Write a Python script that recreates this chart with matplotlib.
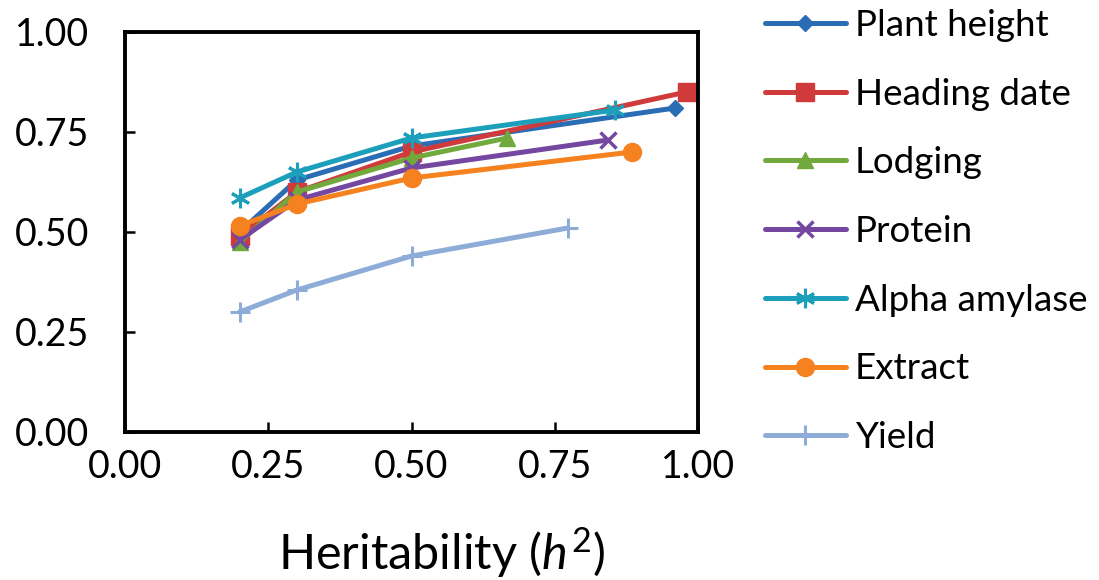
import matplotlib.pyplot as plt

plt.rcParams['font.family'] = 'Lato'
plt.rcParams['mathtext.fontset'] = 'custom'
plt.rcParams['mathtext.rm'] = 'Lato'
plt.rcParams['mathtext.it'] = 'Lato:italic'

traits = ['Plant height', 'Heading date', 'Lodging', 'Protein',
          'Alpha amylase', 'Extract', 'Yield']

# heritability (x) and accuracy (y) per trait
plant_height_x = [0.20, 0.30, 0.50, 0.96]
plant_height_y = [0.50, 0.63, 0.715, 0.81]
heading_date_x = [0.20, 0.30, 0.50, 0.98]
heading_date_y = [0.49, 0.60, 0.70, 0.85]
lodging_x = [0.20, 0.30, 0.50, 0.667]
lodging_y = [0.475, 0.60, 0.685, 0.735]
protein_x = [0.20, 0.30, 0.50, 0.843]
protein_y = [0.48, 0.58, 0.66, 0.73]
alpha_amylase_x = [0.20, 0.30, 0.50, 0.855]
alpha_amylase_y = [0.585, 0.65, 0.735, 0.805]
extract_x = [0.20, 0.30, 0.50, 0.885]
extract_y = [0.515, 0.57, 0.635, 0.70]
yield_x = [0.20, 0.30, 0.50, 0.773]
yield_y = [0.30, 0.355, 0.44, 0.51]

xs = [plant_height_x, heading_date_x, lodging_x, protein_x,
      alpha_amylase_x, extract_x, yield_x]
ys = [plant_height_y, heading_date_y, lodging_y, protein_y,
      alpha_amylase_y, extract_y, yield_y]
colors = ['#2a6db5', '#d03a3a', '#72a93c', '#7448a0', '#1c9fbb', '#f5811f', '#8eacd8']
markers = ['D', 's', '^', 'x', (6, 2, 0), 'o', '+']
msizes = [8, 13, 11, 12, 14, 13, 14]
mews = [1, 1, 1, 2.5, 2.2, 1, 2.2]

fig = plt.figure(figsize=(10.99, 5.8), dpi=100)
ax = fig.add_axes([125 / 1099, 148 / 580, 573 / 1099, 400 / 580])

handles = []
for x, y, c, m, ms, mew, lab in zip(xs, ys, colors, markers, msizes, mews, traits):
    h, = ax.plot(x, y, color=c, lw=3.6, marker=m, ms=ms, mew=mew,
                 mec=c, mfc=c, label=lab, solid_capstyle='round', clip_on=False)
    handles.append(h)

ax.set_xlim(0, 1)
ax.set_ylim(0, 1)
ax.set_xticks([0, 0.25, 0.5, 0.75, 1.0])
ax.set_yticks([0, 0.25, 0.5, 0.75, 1.0])
ax.set_xticklabels(['0.00', '0.25', '0.50', '0.75', '1.00'])
ax.set_yticklabels(['0.00', '0.25', '0.50', '0.75', '1.00'])
ax.tick_params(axis='both', direction='in', length=7, width=1.8, labelsize=27)
ax.tick_params(axis='x', pad=12)
ax.tick_params(axis='y', pad=26)
for s in ax.spines.values():
    s.set_linewidth(2.8)

fig.text(441 / 1099, 1 - 552 / 580, 'Heritability ($h^2$)', fontsize=35,
         ha='center', va='center')

fig.legend(handles=handles, loc='upper left', bbox_to_anchor=(750 / 1099, 1.01),
           frameon=False, fontsize=26.5, handlelength=2.2, handletextpad=0.25,
           labelspacing=0.97, borderaxespad=0)

fig.savefig('out.png', dpi=100)
